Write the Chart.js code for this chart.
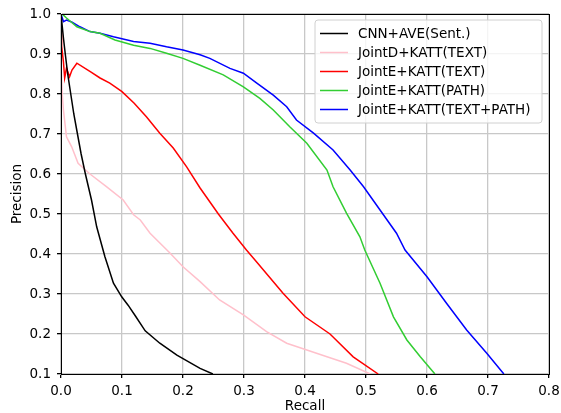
<!DOCTYPE html>
<html>
<head>
<meta charset="utf-8">
<script src="https://cdn.jsdelivr.net/npm/chart.js@4/dist/chart.umd.min.js"></script>
<style>
	html, body { margin: 0; padding: 0; background: #fff; }
	canvas { display: block; }
</style>
</head>
<body>
<canvas id="pr-chart" width="561" height="413"></canvas>
<script>
// Series labels and colours
var seriesLabels = ['CNN+AVE(Sent.)', 'JointD+KATT(TEXT)', 'JointE+KATT(TEXT)', 'JointE+KATT(PATH)', 'JointE+KATT(TEXT+PATH)'];
var seriesColors = ['#000000', '#ffc0cb', '#ff0000', '#32cd32', '#0000ff'];

// Recall / precision values
var cnnRecall = [0, 0.002, 0.004, 0.007, 0.011, 0.016, 0.021, 0.027, 0.033, 0.04, 0.05, 0.0585, 0.072, 0.086, 0.0995, 0.11, 0.122, 0.138, 0.162, 0.19, 0.228, 0.249];
var cnnPrecision = [1.0, 0.97, 0.94, 0.9, 0.85, 0.8, 0.75, 0.7, 0.65, 0.6, 0.535, 0.468, 0.393, 0.327, 0.293, 0.272, 0.245, 0.208, 0.177, 0.147, 0.114, 0.1];

var jointDTextRecall = [0, 0.002, 0.004, 0.009, 0.0175, 0.028, 0.0475, 0.075, 0.102, 0.119, 0.13, 0.146, 0.179, 0.2, 0.228, 0.26, 0.299, 0.337, 0.37, 0.403, 0.436, 0.468, 0.507];
var jointDTextPrecision = [0.88, 0.8, 0.76, 0.693, 0.668, 0.627, 0.6, 0.568, 0.535, 0.498, 0.485, 0.452, 0.402, 0.368, 0.331, 0.285, 0.248, 0.206, 0.177, 0.16, 0.143, 0.127, 0.1];

var jointETextRecall = [0, 0.001, 0.004, 0.006, 0.009, 0.014, 0.018, 0.026, 0.048, 0.064, 0.08, 0.1, 0.12, 0.14, 0.162, 0.184, 0.206, 0.228, 0.258, 0.282, 0.304, 0.318, 0.364, 0.4, 0.441, 0.479, 0.52];
var jointETextPrecision = [0.97, 0.92, 0.88, 0.84, 0.865, 0.843, 0.86, 0.877, 0.856, 0.84, 0.827, 0.806, 0.777, 0.743, 0.702, 0.665, 0.618, 0.565, 0.5, 0.452, 0.41, 0.385, 0.302, 0.243, 0.2, 0.143, 0.1];

var jointEPathRecall = [0, 0.004, 0.009, 0.026, 0.0475, 0.064, 0.0885, 0.119, 0.146, 0.173, 0.2, 0.228, 0.266, 0.299, 0.326, 0.348, 0.375, 0.403, 0.436, 0.446, 0.468, 0.49, 0.498, 0.523, 0.545, 0.567, 0.589, 0.613];
var jointEPathPrecision = [1.0, 0.997, 0.99, 0.968, 0.956, 0.952, 0.935, 0.922, 0.914, 0.902, 0.889, 0.872, 0.848, 0.818, 0.789, 0.76, 0.718, 0.677, 0.61, 0.568, 0.502, 0.443, 0.41, 0.327, 0.243, 0.185, 0.143, 0.1];

var jointEBothRecall = [0, 0.004, 0.009, 0.0175, 0.031, 0.0475, 0.064, 0.086, 0.119, 0.146, 0.173, 0.2, 0.228, 0.244, 0.277, 0.299, 0.321, 0.348, 0.37, 0.386, 0.414, 0.446, 0.474, 0.496, 0.523, 0.55, 0.564, 0.6, 0.632, 0.665, 0.698, 0.726];
var jointEBothPrecision = [1.0, 0.981, 0.985, 0.98, 0.968, 0.956, 0.952, 0.943, 0.931, 0.927, 0.918, 0.91, 0.898, 0.889, 0.864, 0.852, 0.827, 0.797, 0.768, 0.735, 0.702, 0.66, 0.61, 0.568, 0.51, 0.452, 0.41, 0.343, 0.277, 0.21, 0.152, 0.1];

// Axis ticks
var recallTicks = [0, 0.1, 0.2, 0.3, 0.4, 0.5, 0.6, 0.7, 0.8];
var precisionTicks = [0.1, 0.2, 0.3, 0.4, 0.5, 0.6, 0.7, 0.8, 0.9, 1.0];

var allRecall = [cnnRecall, jointDTextRecall, jointETextRecall, jointEPathRecall, jointEBothRecall];
var allPrecision = [cnnPrecision, jointDTextPrecision, jointETextPrecision, jointEPathPrecision, jointEBothPrecision];

function toPoints(xs, ys) {
	return xs.map(function(x, i) { return { x: x, y: ys[i] }; });
}

var datasets = seriesLabels.map(function(label, i) {
	return {
		label: label,
		data: toPoints(allRecall[i], allPrecision[i]),
		borderColor: seriesColors[i],
		backgroundColor: seriesColors[i],
		borderWidth: 1.5,
		pointRadius: 0,
		showLine: true,
		tension: 0
	};
});

// Frame around the plot (top + right spines)
var framePlugin = {
	id: 'frame',
	afterDraw: function(chart) {
		var a = chart.chartArea, ctx = chart.ctx;
		ctx.save();
		ctx.strokeStyle = '#000';
		ctx.lineWidth = 1;
		ctx.strokeRect(Math.round(a.left) + 0.5, Math.round(a.top) + 0.5, Math.round(a.right - a.left), Math.round(a.bottom - a.top));
		ctx.restore();
	}
};

// Matplotlib style legend box inside the plot
var legendPlugin = {
	id: 'boxLegend',
	afterDatasetsDraw: function(chart) {
		var ctx = chart.ctx;
		var x = 315, y = 20, w = 227, h = 103, r = 3;
		ctx.save();
		ctx.beginPath();
		ctx.moveTo(x + r, y);
		ctx.arcTo(x + w, y, x + w, y + h, r);
		ctx.arcTo(x + w, y + h, x, y + h, r);
		ctx.arcTo(x, y + h, x, y, r);
		ctx.arcTo(x, y, x + w, y, r);
		ctx.closePath();
		ctx.fillStyle = 'rgba(255,255,255,0.8)';
		ctx.fill();
		ctx.strokeStyle = '#d0d0d0';
		ctx.lineWidth = 1;
		ctx.stroke();

		ctx.font = '13.5px "DejaVu Sans"';
		ctx.textBaseline = 'middle';
		ctx.textAlign = 'left';
		chart.data.datasets.forEach(function(ds, i) {
			var rowY = 33 + i * 19;
			ctx.beginPath();
			ctx.moveTo(320, rowY + 0.5);
			ctx.lineTo(348, rowY + 0.5);
			ctx.strokeStyle = ds.borderColor;
			ctx.lineWidth = 1.5;
			ctx.stroke();
			ctx.fillStyle = '#000';
			ctx.fillText(ds.label, 358, rowY + 1);
		});
		ctx.restore();
	}
};

Chart.defaults.font.family = '"DejaVu Sans", sans-serif';
Chart.defaults.font.size = 13.5;
Chart.defaults.color = '#000';

new Chart(document.getElementById('pr-chart'), {
	type: 'scatter',
	data: { datasets: datasets },
	plugins: [framePlugin, legendPlugin],
	options: {
		responsive: false,
		animation: false,
		layout: { padding: { top: 14, right: 12, left: 0, bottom: 0 } },
		plugins: {
			legend: { display: false },
			tooltip: { enabled: false }
		},
		scales: {
			x: {
				type: 'linear',
				min: 0,
				max: 0.8,
				afterFit: function(scale) {
					scale.height = 39;
					scale.paddingLeft = 0;
					scale.paddingRight = 0;
				},
				afterBuildTicks: function(scale) {
					scale.ticks = recallTicks.map(function(v) { return { value: v }; });
				},
				ticks: {
					padding: 5,
					maxRotation: 0,
					callback: function(v) { return Number(v).toFixed(1); }
				},
				grid: { color: '#c8c8c8', lineWidth: 1.3, tickLength: 4, tickColor: '#000' },
				border: { color: '#000', width: 1 },
				title: { display: true, text: 'Recall', padding: { top: 0, bottom: -2 } }
			},
			y: {
				type: 'linear',
				min: 0.1,
				max: 1.0,
				afterFit: function(scale) {
					scale.width = 61;
					scale.paddingTop = 0;
					scale.paddingBottom = 0;
				},
				afterBuildTicks: function(scale) {
					scale.ticks = precisionTicks.map(function(v) { return { value: v }; });
				},
				ticks: {
					padding: 6,
					callback: function(v) { return Number(v).toFixed(1); }
				},
				grid: { color: '#c8c8c8', lineWidth: 1.3, tickLength: 4, tickColor: '#000' },
				border: { color: '#000', width: 1 },
				title: { display: true, text: 'Precision', padding: { top: 9, bottom: 0 } }
			}
		}
	}
});
</script>
</body>
</html>
